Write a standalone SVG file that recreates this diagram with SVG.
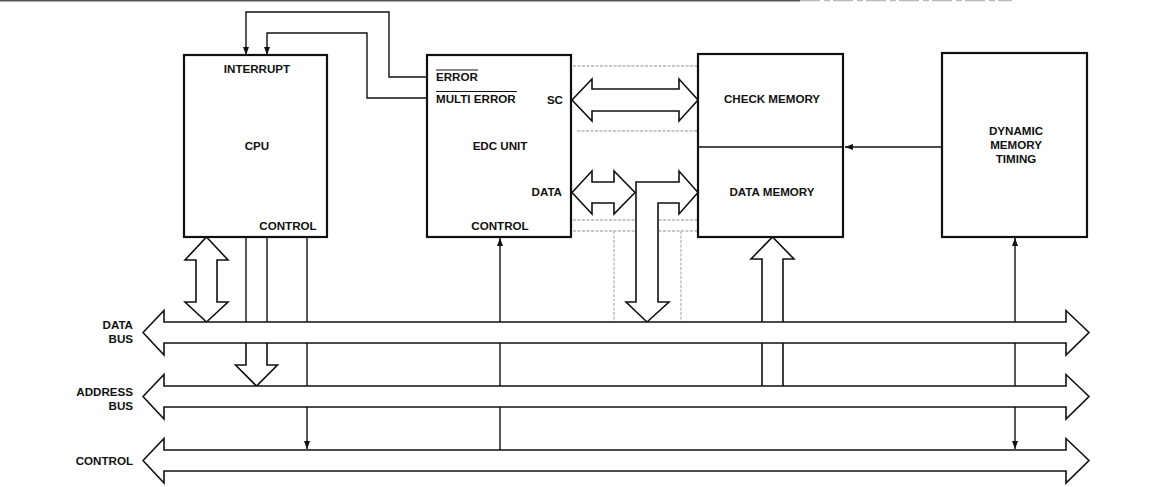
<svg xmlns="http://www.w3.org/2000/svg" width="1154" height="487" viewBox="0 0 1154 487">
<defs>
<marker id="ah" viewBox="0 0 8 6" refX="8" refY="3" markerWidth="8" markerHeight="6" markerUnits="userSpaceOnUse" orient="auto-start-reverse">
<path d="M0,0 L8,3 L0,6 Z" fill="#111"/>
</marker>
</defs>
<style>
.box{fill:#fff;stroke:#111;stroke-width:2.2}
.ln{fill:none;stroke:#111;stroke-width:1.4}
.wide{fill:#fff;stroke:#111;stroke-width:1.6;stroke-linejoin:miter}
.bus{fill:#fff;stroke:#111;stroke-width:1.6;stroke-linejoin:miter}
.faint{fill:none;stroke:#b5b5b5;stroke-width:1.3;stroke-dasharray:3 1.5}
.t{font-family:"Liberation Sans",Arial,sans-serif;font-weight:bold;font-size:11.6px;fill:#111}
.m{text-anchor:middle}
.e{text-anchor:end}
</style>
<rect width="1154" height="487" fill="#fff"/>
<line x1="0" y1="0.7" x2="800" y2="0.7" stroke="#555" stroke-width="1.5"/>
<line x1="800" y1="0.7" x2="1012" y2="0.7" stroke="#aaa" stroke-width="1" stroke-dasharray="20 4 6 3"/>

<g id="connectors">
<!-- interrupt lines -->
<polyline class="ln" points="427,77 389,77 389,12 246,12 246,55" marker-end="url(#ah)"/>
<polyline class="ln" points="427,98 367,98 367,33 267,33 267,55" marker-end="url(#ah)"/>
<!-- faint dotted traces -->
<line class="faint" x1="573" y1="66" x2="697" y2="66"/>
<line class="faint" x1="577" y1="131" x2="697" y2="131"/>
<line class="faint" x1="573" y1="220" x2="697" y2="220"/>
<line class="faint" x1="573" y1="231" x2="697" y2="231" stroke="#999"/>
<line class="faint" x1="614" y1="231" x2="614" y2="335"/>
<line class="faint" x1="681" y1="231" x2="681" y2="335"/>
<!-- dynamic timing to memory -->
<line class="ln" x1="942" y1="147" x2="845" y2="147" marker-end="url(#ah)"/>
<!-- vertical control lines -->
<line class="ln" x1="307" y1="237" x2="307" y2="449" marker-end="url(#ah)"/>
<line class="ln" x1="500" y1="450" x2="500" y2="238" marker-end="url(#ah)"/>
<line class="ln" x1="1015" y1="238" x2="1015" y2="449" marker-start="url(#ah)" marker-end="url(#ah)"/>
<!-- CPU address arrow shafts -->
<line class="ln" x1="246" y1="237" x2="246" y2="343"/>
<line class="ln" x1="267" y1="237" x2="267" y2="343"/>
<path class="wide" d="M246,343 L246,365 L235.5,365 L256.5,386 L277.5,365 L267,365 L267,343"/>
<!-- memory up arrow -->
<path class="wide" d="M762,386 L762,259 L751,259 L772.5,237 L794,259 L783,259 L783,386"/>
<!-- CPU data double arrow -->
<path class="wide" d="M206.5,237 L228,260 L217,260 L217,302 L228,302 L206.5,322 L185,302 L196,302 L196,260 L185,260 Z"/>
<!-- SC double arrow -->
<path class="wide" d="M572,100 L592,79 L592,89 L679,89 L679,79 L698,100 L679,121 L679,111 L592,111 L592,121 Z"/>
<!-- EDC DATA small double arrow -->
<path class="wide" d="M572,192.5 L592,171 L592,182 L614,182 L614,171 L635,192.5 L614,214 L614,203 L592,203 L592,214 Z"/>
<!-- L-shaped data arrow -->
<path class="wide" d="M698,192.5 L679,171 L679,182 L636,182 L636,302 L626,302 L647,322 L669,302 L658,302 L658,203 L679,203 L679,214 Z"/>
<!-- buses -->
<path class="bus" d="M143,332.5 L164,310.5 L164,322 L1066,322 L1066,310.5 L1089,332.5 L1066,355 L1066,343 L164,343 L164,355 Z"/>
<path class="bus" d="M143,396.5 L164,374.5 L164,386 L1066,386 L1066,374.5 L1089,396.5 L1066,419 L1066,407 L164,407 L164,419 Z"/>
<path class="bus" d="M143,460.5 L164,438.5 L164,450 L1066,450 L1066,438.5 L1089,460.5 L1066,483 L1066,471 L164,471 L164,483 Z"/>
</g>

<g id="cpu">
<rect class="box" x="184" y="55" width="143" height="182"/>
<text class="t m" x="257" y="73">INTERRUPT</text>
<text class="t m" x="257" y="150">CPU</text>
<text class="t m" x="288" y="230">CONTROL</text>
</g>

<g id="edc">
<rect class="box" x="427" y="55" width="144" height="182"/>
<text class="t" x="436" y="81">ERROR</text>
<line x1="436" y1="70" x2="478" y2="70" stroke="#111" stroke-width="1.2"/>
<text class="t" x="436" y="103">MULTI ERROR</text>
<line x1="436" y1="91.5" x2="517" y2="91.5" stroke="#111" stroke-width="1.2"/>
<text class="t e" x="563" y="104">SC</text>
<text class="t m" x="500" y="150">EDC UNIT</text>
<text class="t e" x="562" y="196">DATA</text>
<text class="t m" x="500" y="230">CONTROL</text>
</g>

<g id="memory">
<rect class="box" x="698" y="54" width="145" height="183"/>
<line x1="698" y1="147" x2="843" y2="147" stroke="#111" stroke-width="1.4"/>
<text class="t m" x="772" y="103">CHECK MEMORY</text>
<text class="t m" x="772" y="196">DATA MEMORY</text>
</g>

<g id="timing">
<rect class="box" x="942" y="53" width="145" height="184"/>
<text class="t m" x="1016" y="135">DYNAMIC</text>
<text class="t m" x="1016" y="149">MEMORY</text>
<text class="t m" x="1016" y="163">TIMING</text>
</g>

<g id="bus-labels">
<text class="t e" x="133" y="329">DATA</text>
<text class="t e" x="133" y="343">BUS</text>
<text class="t e" x="133" y="396">ADDRESS</text>
<text class="t e" x="133" y="410">BUS</text>
<text class="t e" x="133" y="465">CONTROL</text>
</g>
</svg>
